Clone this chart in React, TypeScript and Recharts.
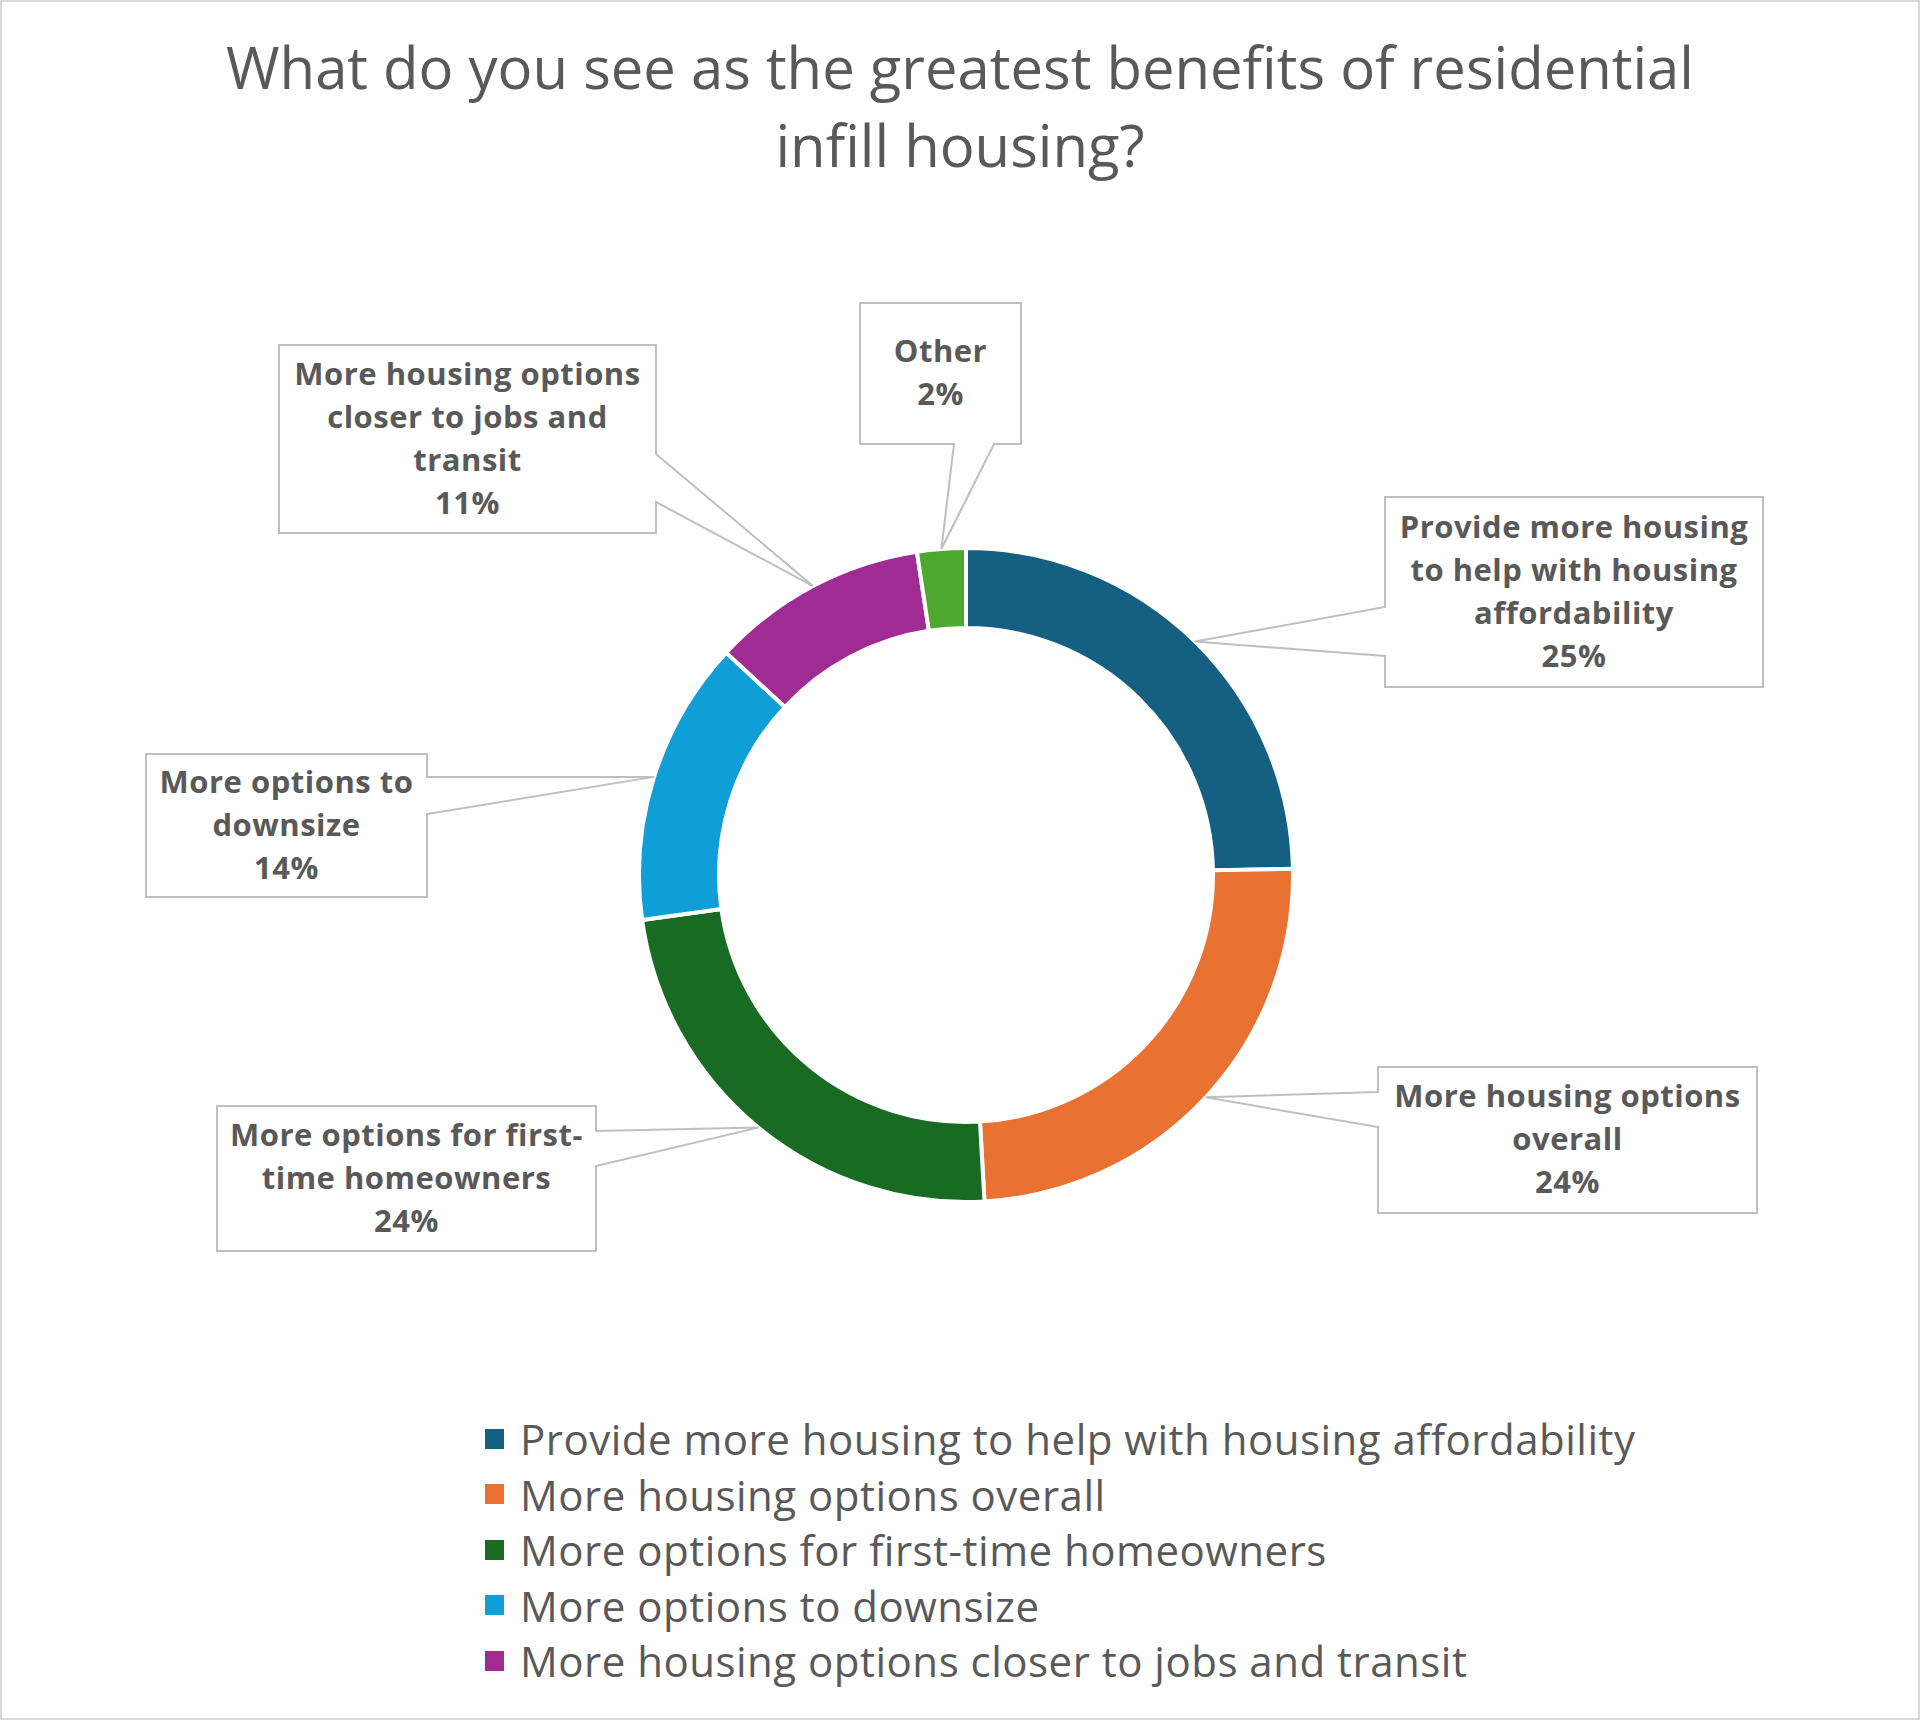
import { PieChart, Pie, Cell, Legend } from 'recharts';

const categories = [
  'Provide more housing to help with housing affordability',
  'More housing options overall',
  'More options for first-time homeowners',
  'More options to downsize',
  'More housing options closer to jobs and transit',
  'Other',
];
const shares = [24.7, 24.4, 23.7, 14.1, 10.7, 2.4];
const colors = ['#156082', '#E97132', '#196B24', '#0F9ED5', '#A02B93', '#4EA72E'];
const legendCategories = categories.slice(0, 5);

const data = categories.map((name, i) => ({ name, value: shares[i] }));

// callout boxes as placed in the original layout
const callouts = [
  { x: 1385, y: 497, w: 378, h: 190, side: 'left', b1: 110, b2: 159, lines: ['Provide more housing', 'to help with housing', 'affordability'] },
  { x: 1378, y: 1067, w: 379, h: 146, side: 'left', b1: 25, b2: 60, lines: ['More housing options', 'overall'] },
  { x: 217, y: 1106, w: 379, h: 145, side: 'right', b1: 25, b2: 60, lines: ['More options for first-', 'time homeowners'] },
  { x: 146, y: 754, w: 281, h: 143, side: 'right', b1: 23, b2: 60, lines: ['More options to', 'downsize'] },
  { x: 279, y: 345, w: 377, h: 188, side: 'right', b1: 109, b2: 157, lines: ['More housing options', 'closer to jobs and', 'transit'] },
  { x: 860, y: 303, w: 161, h: 141, side: 'bottom', b1: 94, b2: 134, lines: ['Other'] },
];

const TEXT = '#595959';
const FONT = '"Open Sans", sans-serif';
const RAD = Math.PI / 180;

function calloutPath(c: any, tx: number, ty: number) {
  const { x, y, w, h, side, b1, b2 } = c;
  if (side === 'left') {
    return `M${x},${y} H${x + w} V${y + h} H${x} V${y + b2} L${tx},${ty} L${x},${y + b1} Z`;
  }
  if (side === 'right') {
    return `M${x},${y} H${x + w} V${y + b1} L${tx},${ty} L${x + w},${y + b2} V${y + h} H${x} Z`;
  }
  return `M${x},${y} H${x + w} V${y + h} H${x + b2} L${tx},${ty} L${x + b1},${y + h} H${x} Z`;
}

const renderLabel = (props: any) => {
  const { cx, cy, midAngle, outerRadius, index, percent } = props;
  const c = callouts[index];
  const tx = cx + outerRadius * Math.cos(-midAngle * RAD);
  const ty = cy + outerRadius * Math.sin(-midAngle * RAD);
  const lines = [...c.lines, `${Math.round(percent * 100)}%`];
  const lh = 43;
  const mid = c.y + c.h / 2;
  const cxText = c.x + c.w / 2;
  return (
    <g key={`callout-${index}`}>
      <path d={calloutPath(c, tx, ty)} fill="#fff" stroke="#BFBFBF" strokeWidth={2} />
      {lines.map((t, i) => (
        <text
          key={i}
          x={cxText}
          y={mid + (i - (lines.length - 1) / 2) * lh + 10}
          textAnchor="middle"
          fill={TEXT}
          fontFamily={FONT}
          fontWeight={700}
          fontSize={31}
          letterSpacing={0.5}
        >
          {t}
        </text>
      ))}
    </g>
  );
};

const renderLegend = (props: any) => {
  const items = (props.payload || [])
    .filter((p: any) => legendCategories.includes(p.value))
    .sort((a: any, b: any) => legendCategories.indexOf(a.value) - legendCategories.indexOf(b.value));
  return (
    <div>
      {items.map((p: any) => (
        <div key={p.value} style={{ display: 'flex', alignItems: 'center', height: 55.5 }}>
          <span style={{ width: 19, height: 20, background: p.color, marginRight: 16, flex: 'none' }} />
          <span style={{ fontFamily: FONT, fontSize: 42, letterSpacing: 0.5, color: TEXT, whiteSpace: 'nowrap' }}>
            {p.value}
          </span>
        </div>
      ))}
    </div>
  );
};

export default function App() {
  return (
    <div style={{ position: 'absolute', left: 0, top: 0, width: 1920, height: 1720, background: '#fff' }}>
      <div
        style={{
          position: 'absolute',
          left: 0,
          top: 28,
          width: 1920,
          textAlign: 'center',
          fontFamily: FONT,
          fontSize: 58,
          lineHeight: '78px',
          color: TEXT,
        }}
      >
        What do you see as the greatest benefits of residential
        <br />
        infill housing?
      </div>
      <PieChart width={1920} height={1720} margin={{ top: 0, right: 0, bottom: 0, left: 0 }}>
        <Pie
          data={data}
          dataKey="value"
          nameKey="name"
          cx={966}
          cy={875}
          innerRadius={247}
          outerRadius={327}
          startAngle={90}
          endAngle={-270}
          stroke="#fff"
          strokeWidth={4}
          label={renderLabel}
          labelLine={false}
          isAnimationActive={false}
        >
          {data.map((d, i) => (
            <Cell key={d.name} fill={colors[i]} />
          ))}
        </Pie>
        <Legend content={renderLegend} wrapperStyle={{ left: 485, top: 1411, width: 1300 }} />
      </PieChart>
      <div
        style={{
          position: 'absolute',
          inset: 0,
          border: '2px solid #D9D9D9',
          pointerEvents: 'none',
        }}
      />
    </div>
  );
}
